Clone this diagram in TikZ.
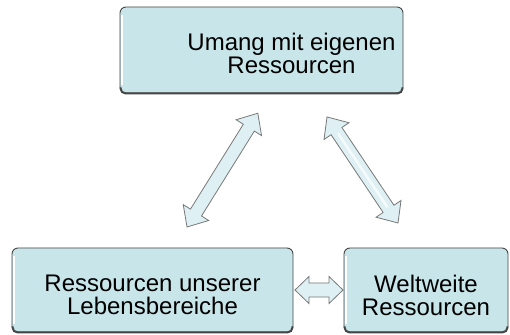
\documentclass[tikz,border=0pt]{standalone}
\usepackage{fontspec}
\setmainfont{Liberation Sans}
\usetikzlibrary{calc}
\definecolor{boxfill}{RGB}{200,230,234}
\definecolor{boxline}{RGB}{70,70,70}
\definecolor{arrfill}{RGB}{222,240,243}
\definecolor{arrline}{RGB}{120,120,120}
% #1 start coordinate, #2 angle, #3 length, #4 half shaft, #5 half head, #6 head length, #7 style
\newcommand\myDblArrow[7]{%
  \begin{scope}[shift={(#1)}, rotate=#2]
    \draw[#7] (0,0) -- (#6,#5) -- (#6,#4) -- (#3-#6,#4) -- (#3-#6,#5) -- (#3,0)
      -- (#3-#6,-#5) -- (#3-#6,-#4) -- (#6,-#4) -- (#6,-#5) -- cycle;
  \end{scope}}
\begin{document}
\begin{tikzpicture}[x=1pt,y=1pt,
  box/.style={draw=boxline, line width=0.9pt, fill=boxfill, rounded corners=6pt, inner sep=0pt},
  txt/.style={align=center, font=\fontsize{24}{23}\selectfont, inner sep=0pt},
  arr/.style={draw=arrline, line width=0.8pt, fill=arrfill, line join=miter}]
\useasboundingbox (0,0) rectangle (510,334);
\fill[white] (0,0) rectangle (510,334);
% boxes
\node[box, minimum width=283pt, minimum height=86pt] (top) at (261.5,284) {};
\node[box, minimum width=281pt, minimum height=84pt] (bl) at (152.5,44) {};
\node[box, minimum width=164pt, minimum height=84pt] (br) at (426,44) {};
% bevel shadows
\foreach \n in {top,bl,br}{
  \draw[white, line width=1.4pt] ([xshift=2.5pt,yshift=-8pt]\n.north west) -- ([xshift=2.5pt,yshift=8pt]\n.south west);
  \draw[boxline, line width=2pt, rounded corners=5pt] ([xshift=1pt,yshift=6pt]\n.south west) |- ([xshift=-1pt]\n.south east) -- ([xshift=-1pt,yshift=6pt]\n.south east);
}
% texts
\node[txt] (toptxt) at ([xshift=30pt,yshift=-3pt]top.center) {Umang mit eigenen\\Ressourcen};
\node[txt] (bltxt) at ([yshift=-5pt]bl.center) {Ressourcen unserer\\Lebensbereiche};
\node[txt] (brtxt) at ([yshift=-5pt]br.center) {Weltweite\\Ressourcen};
% arrow endpoints
\coordinate (la) at (187,107);
\coordinate (ra) at (398,111);
\coordinate (ha) at (295,44);
\myDblArrow{la}{58.1}{134}{6.5}{15}{17}{arr}
\myDblArrow{ra}{123.8}{127.6}{6.5}{15}{17}{arr}
\begin{scope}[shift={(ra)}, rotate=123.8]
  \draw[white, line width=2.5pt, opacity=0.7] (19,0) -- (108,0);
\end{scope}
\myDblArrow{ha}{0}{48}{7}{13.5}{14}{arr}
\end{tikzpicture}
\end{document}
